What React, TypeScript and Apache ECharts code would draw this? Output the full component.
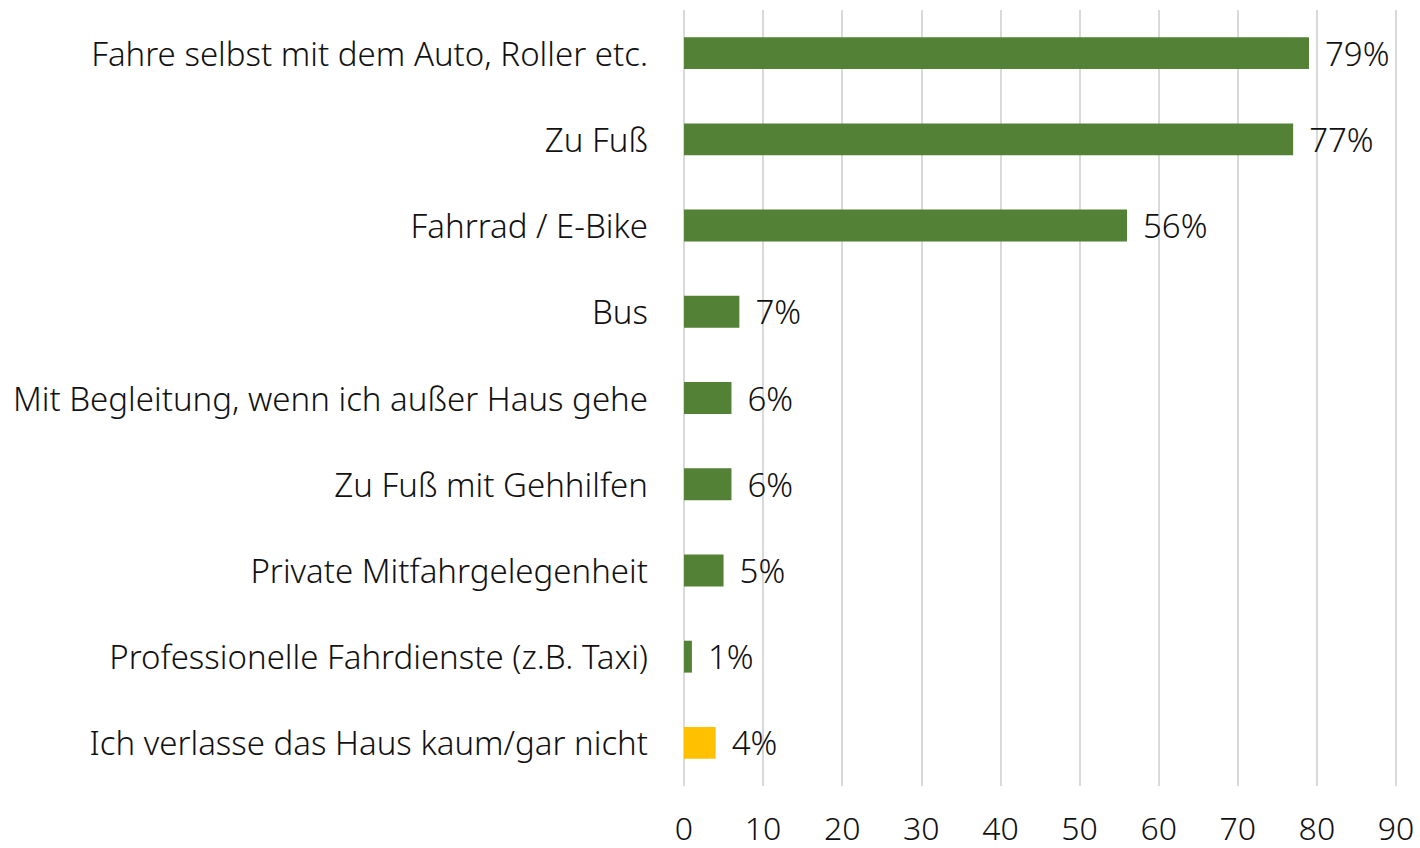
import React, { useEffect, useRef } from "react";
import * as echarts from "echarts";

const categories = [
  "Fahre selbst mit dem Auto, Roller etc.",
  "Zu Fuß",
  "Fahrrad / E-Bike",
  "Bus",
  "Mit Begleitung, wenn ich außer Haus gehe",
  "Zu Fuß mit Gehhilfen",
  "Private Mitfahrgelegenheit",
  "Professionelle Fahrdienste (z.B. Taxi)",
  "Ich verlasse das Haus kaum/gar nicht",
];
const values = [79, 77, 56, 7, 6, 6, 5, 1, 4];
const barColors = ["#538135", "#538135", "#538135", "#538135", "#538135", "#538135", "#538135", "#538135", "#FFC000"];
const xTicks = { min: 0, max: 90, interval: 10 };

const FONT = "'Noto Sans', sans-serif";

export default function App() {
  const ref = useRef<HTMLDivElement>(null);
  useEffect(() => {
    if (!ref.current) return;
    const chart = echarts.init(ref.current, undefined, { renderer: "svg" });
    const cats = [...categories].reverse();
    const vals = [...values].reverse();
    const cols = [...barColors].reverse();
    chart.setOption({
      animation: false,
      textStyle: { fontFamily: FONT },
      grid: { left: 684, right: 24, top: 10, bottom: 62, containLabel: false },
      xAxis: {
        type: "value",
        min: xTicks.min,
        max: xTicks.max,
        interval: xTicks.interval,
        axisLine: { show: false },
        axisTick: { show: false },
        splitLine: { show: true, lineStyle: { color: "#d9d9d9", width: 2 } },
        axisLabel: { fontSize: 32, fontWeight: 300, color: "#111", margin: 25, fontFamily: FONT },
      },
      yAxis: {
        type: "category",
        data: cats,
        axisLine: { show: false },
        axisTick: { show: false },
        axisLabel: { fontSize: 33, fontWeight: 300, color: "#111", margin: 36, fontFamily: FONT },
      },
      series: [
        {
          type: "bar",
          data: vals.map((v, i) => ({ value: v, itemStyle: { color: cols[i] } })),
          barCategoryGap: "63%",
          label: {
            show: true,
            position: "right",
            distance: 16,
            formatter: "{c}%",
            fontSize: 33,
            fontWeight: 300,
            color: "#111",
            fontFamily: FONT,
          },
        },
      ],
    });
    return () => chart.dispose();
  }, []);
  return <div ref={ref} style={{ width: 1420, height: 848, position: "absolute", left: 0, top: 0 }} />;
}
